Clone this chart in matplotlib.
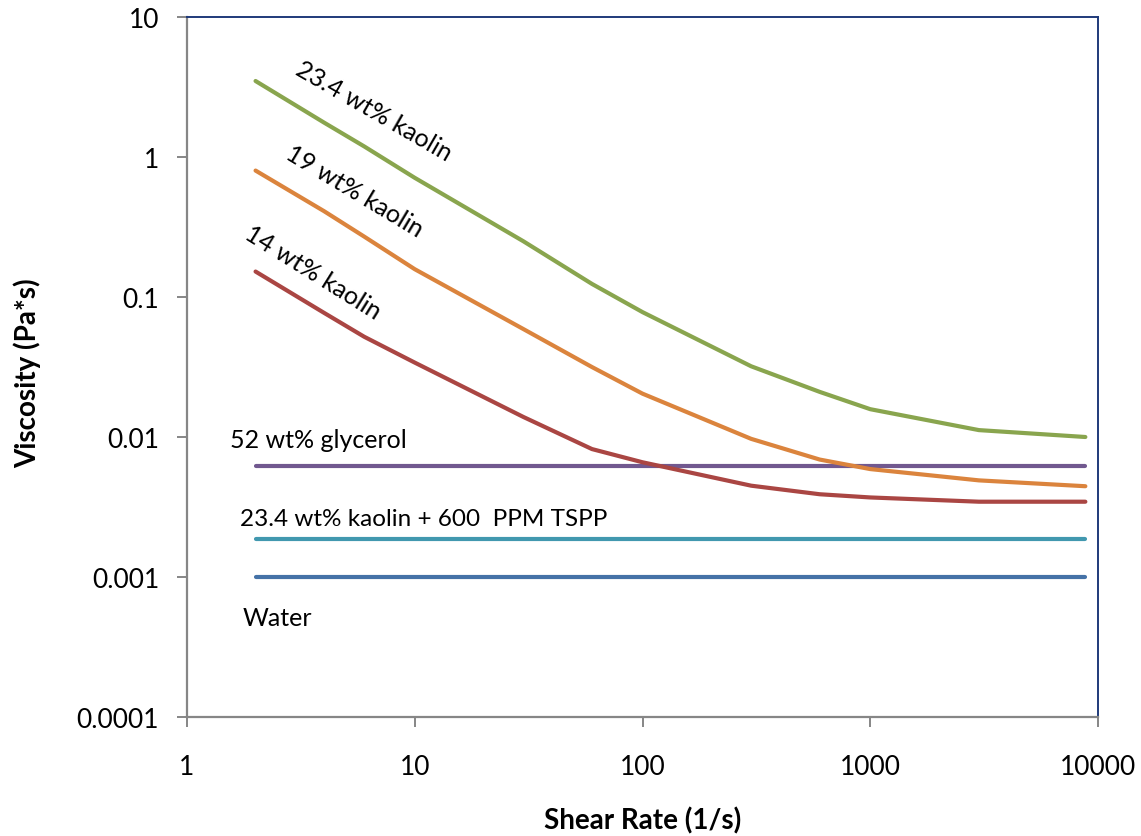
import matplotlib
matplotlib.use("Agg")
import matplotlib.pyplot as plt
from matplotlib.ticker import FixedLocator, NullLocator, FixedFormatter

plt.rcParams['font.family'] = ['Lato', 'DejaVu Sans']

# Shear rate (1/s) and viscosity (Pa*s) for each fluid
shear_kaolin = [2, 4, 6, 10, 30, 60, 100, 300, 600, 1000, 3000, 8800]
visc_kaolin_234 = [3.49, 1.76, 1.19, 0.71, 0.25, 0.124, 0.078, 0.032, 0.021, 0.0158, 0.0112, 0.0100]
visc_kaolin_19 = [0.80, 0.41, 0.27, 0.158, 0.059, 0.0316, 0.0204, 0.0097, 0.0069, 0.0059, 0.0049, 0.00445]
visc_kaolin_14 = [0.152, 0.077, 0.052, 0.034, 0.0139, 0.0082, 0.0066, 0.00449, 0.0039, 0.0037, 0.00345, 0.00345]

shear_newtonian = [2, 8800]
visc_glycerol = [0.00624, 0.00624]
visc_tspp = [0.00187, 0.00187]
visc_water = [0.001, 0.001]

x_ticks = [1, 10, 100, 1000, 10000]
x_tick_labels = ["1", "10", "100", "1000", "10000"]
y_ticks = [0.0001, 0.001, 0.01, 0.1, 1, 10]
y_tick_labels = ["0.0001", "0.001", "0.01", "0.1", "1", "10"]

C_GREEN = "#89A54E"
C_ORANGE = "#DB843D"
C_RED = "#AA4643"
C_PURPLE = "#71588F"
C_CYAN = "#4198AF"
C_BLUE = "#4572A7"

fig = plt.figure(figsize=(11.41, 8.37), dpi=100)
ax = fig.add_axes([187 / 1141, 1 - 718 / 837, (1098 - 187) / 1141, (718 - 18) / 837])

lw = 3.0
kw = dict(lw=lw, solid_capstyle='round', solid_joinstyle='round')
ax.plot(shear_newtonian, visc_water, color=C_BLUE, **kw)
ax.plot(shear_newtonian, visc_tspp, color=C_CYAN, **kw)
ax.plot(shear_newtonian, visc_glycerol, color=C_PURPLE, **kw)
ax.plot(shear_kaolin, visc_kaolin_14, color=C_RED, **kw)
ax.plot(shear_kaolin, visc_kaolin_19, color=C_ORANGE, **kw)
ax.plot(shear_kaolin, visc_kaolin_234, color=C_GREEN, **kw)

ax.set_xscale('log')
ax.set_yscale('log')
ax.set_xlim(1, 10000)
ax.set_ylim(0.0001, 10)

ax.xaxis.set_major_locator(FixedLocator(x_ticks))
ax.xaxis.set_major_formatter(FixedFormatter(x_tick_labels))
ax.xaxis.set_minor_locator(NullLocator())
ax.yaxis.set_major_locator(FixedLocator(y_ticks))
ax.yaxis.set_major_formatter(FixedFormatter(y_tick_labels))
ax.yaxis.set_minor_locator(NullLocator())

gray = "#868686"
navy = "#1F3A7A"
for side in ('left', 'bottom'):
    ax.spines[side].set_color(gray)
    ax.spines[side].set_linewidth(1.6)
for side in ('top', 'right'):
    ax.spines[side].set_color(navy)
    ax.spines[side].set_linewidth(1.4)

ax.tick_params(axis='both', which='major', direction='out', length=7, width=1.4,
               color=gray, labelsize=19, labelcolor='black')
ax.tick_params(axis='y', pad=13)
ax.tick_params(axis='x', pad=20)

ax.set_xlabel("Shear Rate (1/s)", fontsize=20, fontweight='bold', va='center')
ax.set_ylabel("Viscosity (Pa*s)", fontsize=20, fontweight='bold', va='center')
ax.xaxis.set_label_coords(0.5, -0.147)
ax.yaxis.set_label_coords(-0.1756, 0.493)

# Curve labels
tfs = 18
ax.text(2.95, 3.98, "23.4 wt% kaolin", rotation=-30, rotation_mode='anchor',
        ha='left', va='baseline', fontsize=tfs)
ax.text(2.67, 1.0, "19 wt% kaolin", rotation=-31, rotation_mode='anchor',
        ha='left', va='baseline', fontsize=tfs)
ax.text(1.76, 0.268, "14 wt% kaolin", rotation=-32, rotation_mode='anchor',
        ha='left', va='baseline', fontsize=tfs)
ax.text(1.545, 0.0085, "52 wt% glycerol", ha='left', va='baseline', fontsize=tfs)
ax.text(1.71, 0.00235, "23.4 wt% kaolin + 600  PPM TSPP", ha='left', va='baseline', fontsize=17.5)
ax.text(1.76, 0.000454, "Water", ha='left', va='baseline', fontsize=tfs)

fig.savefig("out.png", dpi=100)
